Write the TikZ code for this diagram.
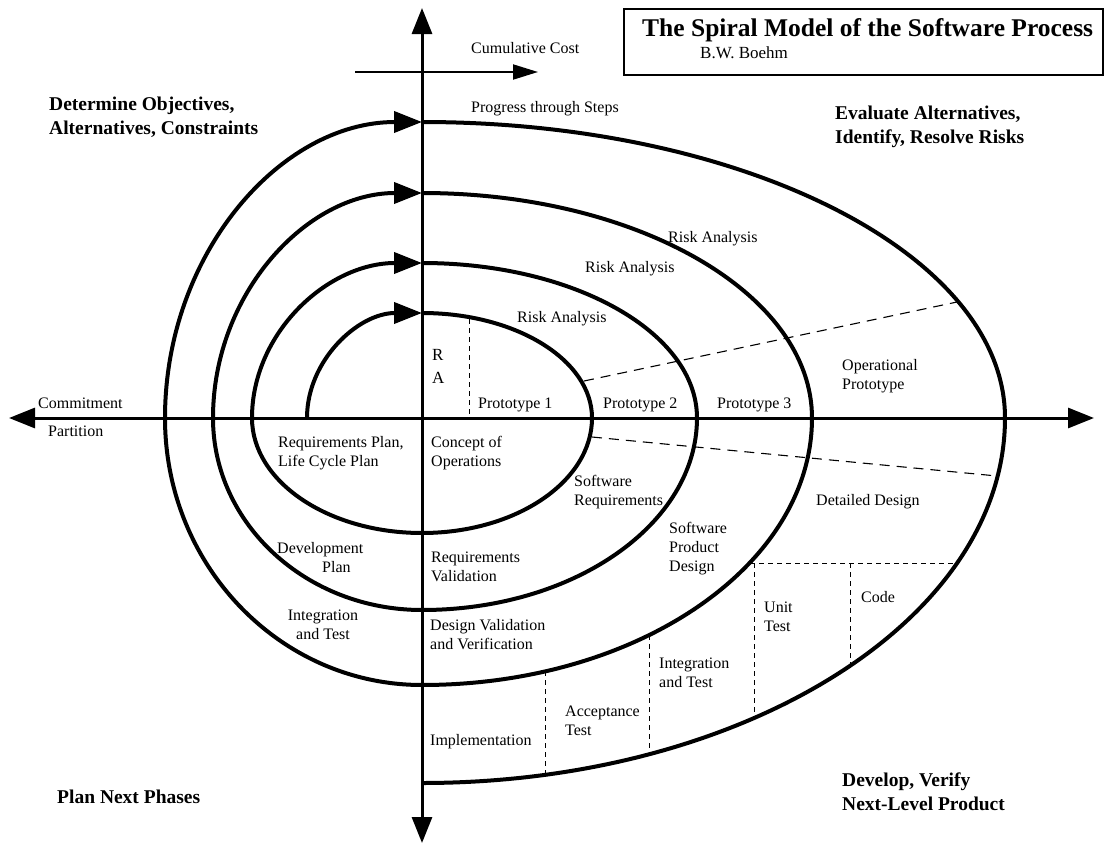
\documentclass[tikz,border=0pt]{standalone}
\usepackage{fontspec}
\setmainfont{Liberation Serif}
\usetikzlibrary{arrows.meta}
\begin{document}
\begin{tikzpicture}[x=1pt,y=-1pt,
  lbl/.style={font=\fontsize{16}{19}\selectfont, inner sep=0pt, anchor=base west, align=left},
  lblc/.style={lbl, anchor=base, align=center},
  quad/.style={font=\bfseries\fontsize{19.5}{24}\selectfont, inner sep=0pt, anchor=base west, align=left},
  axis/.style={line width=3pt, -{Triangle[length=26pt,width=20pt]}},
  spiral/.style={line width=4pt},
  spiralarrow/.style={spiral, -{Triangle[length=28pt,width=21pt]}},
  phase/.style={line width=1.1pt, dash pattern=on 10pt off 7pt},
  stepline/.style={line width=1pt, dash pattern=on 5pt off 4pt},
]
\fill[white] (0,0) rectangle (1104,849);
\useasboundingbox (0,0) rectangle (1104,849);

% axes
\coordinate (O) at (422,418);
\coordinate (top) at (422,8);
\coordinate (bot) at (422,843);
\coordinate (lft) at (9,418);
\coordinate (rgt) at (1094,418);
\draw[axis] (O) -- (top);
\draw[axis] (O) -- (bot);
\draw[axis] (O) -- (lft);
\draw[axis] (O) -- (rgt);

% cumulative cost arrow
\coordinate (cc1) at (355,72);
\coordinate (cc2) at (538,72);
\draw[line width=2pt, -{Triangle[length=25pt,width=15pt]}] (cc1) -- (cc2);

% title box
\node (titlebox) [draw, line width=2pt, anchor=north west, minimum width=479pt, minimum height=66pt, inner sep=0pt] at (623,8) {};
\node (title) [anchor=base west, inner sep=0pt, font=\bfseries\fontsize{25.5}{28}\selectfont] at (642,36) {The Spiral Model of the Software Process};
\node (author) [anchor=base west, inner sep=0pt, font=\fontsize{17}{20}\selectfont] at (700,58) {B.W. Boehm};

% the spiral, one loop per arrowhead
\coordinate (s0) at (307,418);
\coordinate (t1) at (422,313);
\coordinate (t2) at (422,263);
\coordinate (t3) at (422,193);
\coordinate (t4) at (422,122);
\draw[spiralarrow] (s0) arc[start angle=180,end angle=270,x radius=115,y radius=105];
\draw[spiralarrow] (t1) arc[start angle=270,end angle=360,x radius=170,y radius=105]
  arc[start angle=0,end angle=90,x radius=170,y radius=115]
  arc[start angle=90,end angle=180,x radius=170,y radius=115]
  arc[start angle=180,end angle=270,x radius=170,y radius=155];
\draw[spiralarrow] (t2) arc[start angle=270,end angle=360,x radius=275,y radius=155]
  arc[start angle=0,end angle=90,x radius=275,y radius=192]
  arc[start angle=90,end angle=180,x radius=209,y radius=192]
  arc[start angle=180,end angle=270,x radius=209,y radius=225];
\draw[spiralarrow] (t3) arc[start angle=270,end angle=360,x radius=390,y radius=225]
  arc[start angle=0,end angle=90,x radius=390,y radius=267]
  arc[start angle=90,end angle=180,x radius=257,y radius=267]
  arc[start angle=180,end angle=270,x radius=257,y radius=296];
\draw[spiral] (t4) arc[start angle=270,end angle=360,x radius=583,y radius=296]
  arc[start angle=0,end angle=90,x radius=583,y radius=365];

% dashed phase boundaries
\draw[phase] (584,381) -- (957,302);
\draw[phase] (592,437) -- (997,476);
\draw[stepline] (469,319) -- (469,418);
\draw[stepline] (750,563) -- (957,563);
\draw[stepline] (754,563) -- (754,718);
\draw[stepline] (850,563) -- (850,664);
\draw[stepline] (649,635) -- (649,754);
\draw[stepline] (545,671) -- (545,775);

% quadrant headings (anchored at the baseline of the last line)
\node (det) [quad] at (49,134) {Determine Objectives,\\Alternatives, Constraints};
\node (eval) [quad] at (835,143) {Evaluate Alternatives,\\Identify, Resolve Risks};
\node (plan) [quad] at (57,803) {Plan Next Phases};
\node (dev) [quad] at (842,810) {Develop, Verify\\Next-Level Product};

% axis labels
\node (cc) [lbl] at (471,53) {Cumulative Cost};
\node (pts) [lbl] at (471,112) {Progress through Steps};
\node (com) [lbl] at (38,408) {Commitment};
\node (par) [lbl] at (48,436) {Partition};

% risk analysis and prototypes
\node (ra1) [lbl] at (668,242) {Risk Analysis};
\node (ra2) [lbl] at (585,272) {Risk Analysis};
\node (ra3) [lbl] at (517,322) {Risk Analysis};
\node (ra0) [lbl, font=\fontsize{17}{23}\selectfont] at (432,383) {R\\A};
\node (p1) [lbl] at (478,408) {Prototype 1};
\node (p2) [lbl] at (603,408) {Prototype 2};
\node (p3) [lbl] at (717,408) {Prototype 3};
\node (op) [lbl] at (842,389) {Operational\\Prototype};

% plans and products
\node (rp) [lbl] at (278,466) {Requirements Plan,\\Life Cycle Plan};
\node (co) [lbl] at (431,466) {Concept of\\Operations};
\node (sr) [lbl] at (574,505) {Software\\Requirements};
\node (dp) [lbl] at (277,572) {Development\\\hspace*{45pt}Plan};
\node (rv) [lbl] at (431,581) {Requirements\\Validation};
\node (itl) [lblc] at (323,639) {Integration\\and Test};
\node (dvv) [lbl] at (430,649) {Design Validation\\and Verification};
\node (spd) [lbl] at (669,571) {Software\\Product\\Design};
\node (dd) [lbl] at (816,505) {Detailed Design};
\node (ut) [lbl] at (764,631) {Unit\\Test};
\node (code) [lbl] at (861,602) {Code};
\node (itr) [lbl] at (659,687) {Integration\\and Test};
\node (acc) [lbl] at (565,735) {Acceptance\\Test};
\node (impl) [lbl] at (430,745) {Implementation};
\end{tikzpicture}
\end{document}
